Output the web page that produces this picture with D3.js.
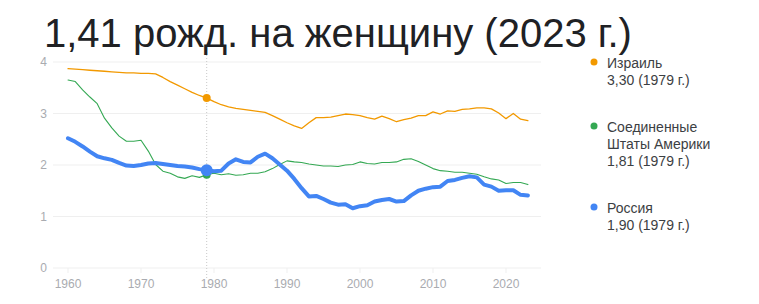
<!DOCTYPE html>
<html>
<head>
<meta charset="utf-8">
<script src="https://cdn.jsdelivr.net/npm/d3@7"></script>
<style>
  body { margin: 0; background: #fff; font-family: "Liberation Sans", Arial, sans-serif; }
  svg { display: block; }
</style>
</head>
<body>
<svg id="chart" width="759" height="304"></svg>
<script>
// years 1960..2023
const years = d3.range(1960, 2024);

const israel = [3.87, 3.86, 3.85, 3.84, 3.83, 3.82, 3.81, 3.80, 3.79, 3.79,
  3.78, 3.78, 3.77, 3.70, 3.62, 3.55, 3.48, 3.41, 3.35, 3.30,
  3.23, 3.17, 3.13, 3.10, 3.08, 3.06, 3.04, 3.02, 2.96, 2.89,
  2.82, 2.76, 2.71, 2.82, 2.92, 2.92, 2.93, 2.96, 2.99, 2.98,
  2.96, 2.92, 2.89, 2.95, 2.90, 2.84, 2.88, 2.91, 2.96, 2.96,
  3.03, 2.99, 3.05, 3.04, 3.08, 3.09, 3.11, 3.11, 3.09, 3.01,
  2.90, 3.00, 2.89, 2.86];

const usa = [3.65, 3.62, 3.46, 3.32, 3.19, 2.91, 2.72, 2.56, 2.46, 2.46,
  2.48, 2.27, 2.01, 1.88, 1.84, 1.77, 1.74, 1.79, 1.76, 1.81,
  1.84, 1.81, 1.83, 1.80, 1.81, 1.84, 1.84, 1.87, 1.93, 2.01,
  2.08, 2.06, 2.05, 2.02, 2.00, 1.98, 1.98, 1.97, 2.00, 2.01,
  2.06, 2.03, 2.02, 2.05, 2.05, 2.06, 2.11, 2.12, 2.07, 2.00,
  1.93, 1.89, 1.88, 1.86, 1.86, 1.84, 1.82, 1.77, 1.73, 1.71,
  1.64, 1.66, 1.66, 1.62];

const russia = [2.52, 2.45, 2.36, 2.26, 2.17, 2.13, 2.10, 2.04, 1.99, 1.98,
  2.00, 2.03, 2.04, 2.02, 2.00, 1.98, 1.97, 1.95, 1.92, 1.90,
  1.88, 1.89, 2.03, 2.11, 2.06, 2.05, 2.16, 2.22, 2.13, 2.01,
  1.89, 1.73, 1.55, 1.39, 1.40, 1.34, 1.27, 1.23, 1.24, 1.16,
  1.20, 1.22, 1.29, 1.32, 1.34, 1.29, 1.30, 1.41, 1.50, 1.54,
  1.57, 1.58, 1.69, 1.71, 1.75, 1.78, 1.76, 1.62, 1.58, 1.50,
  1.51, 1.51, 1.42, 1.41];

const yTicks = [0, 1, 2, 3, 4];
const xTicks = [1960, 1970, 1980, 1990, 2000, 2010, 2020];
const hoverYear = 1979;

const series = [
  { name: ["Израиль"], label: "3,30 (1979 г.)", values: israel, color: "#f29900", width: 1.3, r: 4 },
  { name: ["Соединенные", "Штаты Америки"], label: "1,81 (1979 г.)", values: usa, color: "#34a853", width: 1.1, r: 4 },
  { name: ["Россия"], label: "1,90 (1979 г.)", values: russia, color: "#4285f4", width: 4, r: 6 }
];

const svg = d3.select("#chart");

// title
svg.append("text")
  .attr("x", 44).attr("y", 47)
  .attr("font-size", 40)
  .attr("fill", "#202124")
  .text("1,41 рожд. на женщину (2023 г.)");

const x = d3.scaleLinear().domain([1960, 2020]).range([68, 506]);
const y = d3.scaleLinear().domain([0, 4]).range([268, 62]);

// grid
svg.append("g").selectAll("line")
  .data(yTicks).join("line")
  .attr("x1", 53).attr("x2", 541)
  .attr("y1", d => y(d)).attr("y2", d => y(d))
  .attr("stroke", "#efefef").attr("stroke-width", 1);

svg.append("g").selectAll("text")
  .data(yTicks).join("text")
  .attr("x", 47).attr("y", d => y(d) + 4)
  .attr("text-anchor", "end")
  .attr("font-size", 12).attr("fill", "#a9abb0")
  .text(d => d);

// x ticks
svg.append("g").selectAll("line")
  .data(xTicks).join("line")
  .attr("x1", d => x(d)).attr("x2", d => x(d))
  .attr("y1", 268).attr("y2", 273)
  .attr("stroke", "#efefef");

svg.append("g").selectAll("text")
  .data(xTicks).join("text")
  .attr("x", d => x(d)).attr("y", 288)
  .attr("text-anchor", "middle")
  .attr("font-size", 12).attr("fill", "#a9abb0")
  .text(d => d);

// hover line
svg.append("line")
  .attr("x1", x(hoverYear)).attr("x2", x(hoverYear))
  .attr("y1", 55).attr("y2", 280)
  .attr("stroke", "#c8c8c8").attr("stroke-dasharray", "1,2");

const line = d3.line()
  .x((d, i) => x(years[i]))
  .y(d => y(d));

series.forEach(s => {
  svg.append("path")
    .attr("d", line(s.values))
    .attr("fill", "none")
    .attr("stroke", s.color)
    .attr("stroke-width", s.width)
    .attr("stroke-linejoin", "round")
    .attr("stroke-linecap", "round");
});

series.forEach(s => {
  const i = years.indexOf(hoverYear);
  svg.append("circle")
    .attr("cx", x(hoverYear)).attr("cy", y(s.values[i]))
    .attr("r", s.r).attr("fill", s.color);
});

// legend
const legendTop = [62, 126, 207];
series.forEach((s, k) => {
  const g = svg.append("g").attr("transform", `translate(0,${legendTop[k]})`);
  g.append("circle").attr("cx", 594).attr("cy", 0).attr("r", 3.5).attr("fill", s.color);
  const lines = s.name.concat([s.label]);
  g.selectAll("text").data(lines).join("text")
    .attr("x", 607).attr("y", (d, j) => 6 + j * 17)
    .attr("font-size", 14).attr("fill", "#3c4043")
    .text(d => d);
});
</script>
</body>
</html>
